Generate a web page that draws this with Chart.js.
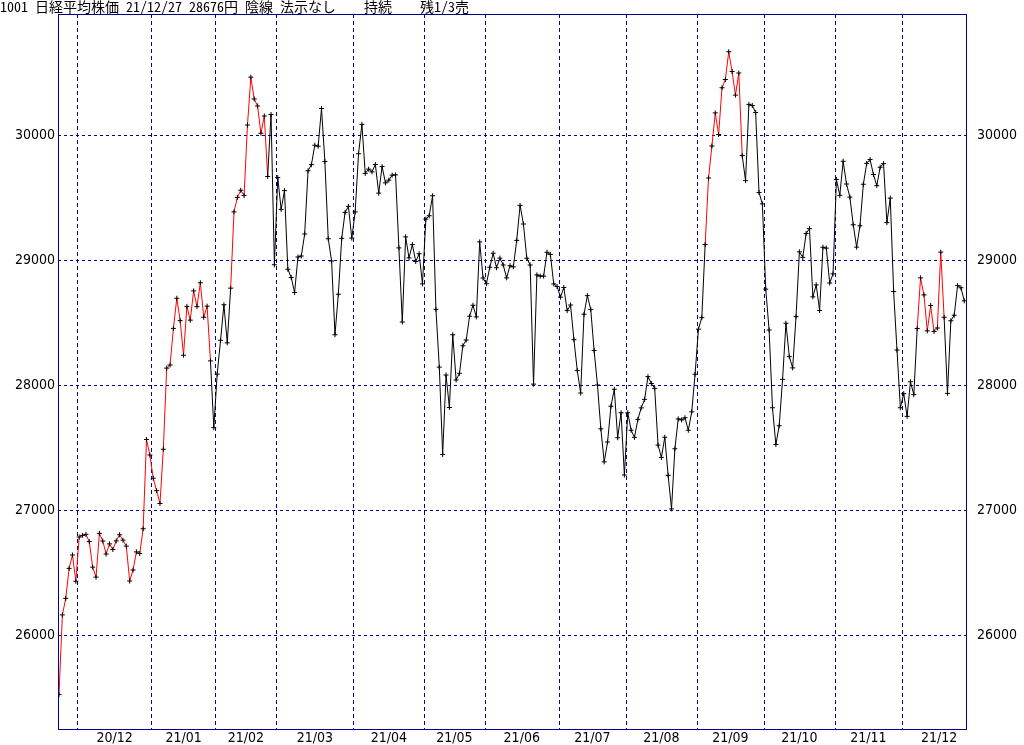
<!DOCTYPE html>
<html lang="ja">
<head>
<meta charset="utf-8">
<title>1001 日経平均株価</title>
<script src="https://cdn.jsdelivr.net/npm/chart.js@4.4.1/dist/chart.umd.min.js"></script>
<style>
    html, body { margin: 0; padding: 0; background: #fff; }
</style>
</head>
<body>
<canvas id="nikkeiChart" width="1024" height="745"></canvas>
<script>
// 日経平均 終値 (月ごと)
const months = ['20/11', '20/12', '21/01', '21/02', '21/03', '21/04', '21/05',
    '21/06', '21/07', '21/08', '21/09', '21/10', '21/11', '21/12'];

const close2011 = [25527, 26165, 26297, 26537, 26644, 26434];
const close2012 = [26788, 26801, 26809, 26751, 26547, 26467, 26817, 26756, 26652, 26733, 26688,
    26757, 26806, 26763, 26715, 26436, 26524, 26669, 26656, 26854, 27568, 27444];
const close2101 = [27258, 27159, 27056, 27490, 28139, 28164, 28457, 28698, 28519, 28242, 28633,
    28523, 28757, 28631, 28822, 28546, 28635, 28197, 27663];
const close2102 = [28091, 28362, 28646, 28341, 28779, 29389, 29505, 29562, 29520, 30084, 30467,
    30292, 30236, 30018, 30156, 29672, 30168, 28966];
const close2103 = [29664, 29409, 29559, 28930, 28864, 28744, 29028, 29036, 29212, 29718, 29767,
    29922, 29914, 30216, 29792, 29174, 28996, 28406, 28730, 29177, 29385, 29433, 29179];
const close2104 = [29389, 29854, 30089, 29697, 29731, 29709, 29768, 29539, 29752, 29621, 29643,
    29683, 29685, 29101, 28508, 29189, 29021, 29127, 28992, 29054, 28813];
const close2105 = [29331, 29358, 29518, 28609, 28147, 27448, 28084, 27824, 28406, 28044, 28098,
    28318, 28364, 28554, 28642, 28549, 29149, 28860];
const close2106 = [28814, 28946, 29058, 28942, 29019, 28964, 28861, 28958, 28949, 29161, 29441,
    29292, 29018, 28964, 28011, 28885, 28875, 28875, 29066, 29049, 28813, 28792];
const close2107 = [28707, 28784, 28599, 28644, 28367, 28119, 27940, 28570, 28719, 28609, 28280,
    28004, 27653, 27389, 27548, 27834, 27970, 27582, 27782, 27284];
const close2108 = [27782, 27642, 27585, 27729, 27821, 27889, 28071, 28016, 27977, 27523, 27425,
    27586, 27281, 27013, 27494, 27733, 27725, 27742, 27642, 27789, 28090];
const close2109 = [28451, 28543, 29128, 29660, 29916, 30181, 30008, 30382, 30448, 30670, 30512,
    30323, 30500, 29840, 29639, 30249, 30240, 30184, 29544, 29453];
const close2110 = [28771, 28444, 27822, 27528, 27678, 28049, 28498, 28231, 28141, 28551, 29069,
    29025, 29216, 29255, 28709, 28805, 28600, 29106, 29099, 28820, 28893];
const close2111 = [29648, 29521, 29794, 29612, 29507, 29286, 29107, 29278, 29610, 29777, 29808,
    29688, 29599, 29746, 29775, 29303, 29499, 28752, 28284, 27822];
const close2112 = [27935, 27753, 28030, 27927, 28456, 28861, 28725, 28437, 28640, 28432, 28460,
    29067, 28546, 27937, 28518, 28562, 28799, 28782, 28677];

const closesByMonth = [close2011, close2012, close2101, close2102, close2103, close2104, close2105,
    close2106, close2107, close2108, close2109, close2110, close2111, close2112];

const yTicks = [26000, 27000, 28000, 29000, 30000];

// 保有中の区間 (データ番号, 赤線)
const holdRanges = [[0, 45], [51, 62], [192, 203], [255, 263]];

const titleText = '1001 日経平均株価 21/12/27 28676円 陰線 法示なし    持続    残1/3売';

// ---- build ----
const closes = closesByMonth.flat();
const points = closes.map((v, i) => ({ x: i, y: v }));

const monthStarts = [];
let n = 0;
closesByMonth.forEach(m => { monthStarts.push(n); n += m.length; });

// grid ticks just before the first trading day of each month, label ticks mid-month
const xTicks = [];
for (let m = 1; m < months.length; m++) {
    xTicks.push({ value: monthStarts[m] - 0.4, grid: true, lbl: '' });
}
for (let m = 1; m < months.length; m++) {
    // last month is still running: centre the label on a full month of trading days
    const len = m === months.length - 1 ? 22 : closesByMonth[m].length;
    xTicks.push({ value: monthStarts[m] + (len - 1) / 2, grid: false, lbl: months[m] });
}

function isHeld(i) {
    return holdRanges.some(r => i >= r[0] && i <= r[1]);
}

const navy = '#000088';
const tickFont = { family: "'Liberation Sans Narrow', 'DejaVu Sans Condensed', sans-serif", size: 14 };
const yMin = 25244, yMax = 30972;

const framePlugin = {
    id: 'frame',
    afterDraw(chart) {
        const { ctx, chartArea: a } = chart;
        ctx.save();
        ctx.strokeStyle = navy;
        ctx.lineWidth = 1;
        ctx.strokeRect(a.left + 0.5, a.top + 0.5, a.right - a.left - 1, a.bottom - a.top - 1);
        ctx.restore();
    }
};

const ctx = document.getElementById('nikkeiChart').getContext('2d');
const nikkeiChart = new Chart(ctx, {
    type: 'line',
    data: {
        datasets: [{
            data: points,
            borderColor: '#000000',
            borderWidth: 1,
            tension: 0,
            pointStyle: 'cross',
            pointRadius: 2.5,
            pointHoverRadius: 2.5,
            pointBorderColor: '#000000',
            pointBorderWidth: 1,
            segment: {
                borderColor: c => (isHeld(c.p0DataIndex) && isHeld(c.p1DataIndex)) ? '#ff0000' : '#000000'
            }
        }]
    },
    options: {
        responsive: false,
        animation: false,
        events: [],
        layout: { padding: 0 },
        plugins: {
            legend: { display: false },
            tooltip: { enabled: false },
            title: {
                display: true,
                text: titleText,
                align: 'start',
                color: '#000000',
                padding: { top: 0, bottom: 0 },
                font: { family: "'Noto Sans Mono CJK JP', 'Noto Sans CJK JP', monospace", size: 14, weight: 'normal', lineHeight: '14px' }
            }
        },
        scales: {
            x: {
                type: 'linear',
                min: -0.3,
                max: 269.8,
                afterBuildTicks: s => { s.ticks = xTicks.map(t => ({ ...t })); },
                afterFit: s => { s.height = 15; },
                grid: {
                    color: c => (c.tick && c.tick.grid) ? navy : 'rgba(0,0,0,0)',
                    lineWidth: 1,
                    drawTicks: false
                },
                border: { display: false, dash: [4, 3] },
                ticks: {
                    autoSkip: false,
                    maxRotation: 0,
                    padding: 0,
                    color: '#000000',
                    font: tickFont,
                    callback: (v, i, ticks) => ticks[i].lbl || ''
                }
            },
            y: {
                position: 'left',
                min: yMin,
                max: yMax,
                afterBuildTicks: s => { s.ticks = yTicks.map(v => ({ value: v })); },
                afterFit: s => { s.width = 58; },
                grid: { color: navy, lineWidth: 1, drawTicks: false },
                border: { display: false, dash: [3, 3] },
                ticks: { padding: 3, color: '#000000', font: tickFont, callback: v => String(v) }
            },
            y2: {
                position: 'right',
                min: yMin,
                max: yMax,
                afterBuildTicks: s => { s.ticks = yTicks.map(v => ({ value: v })); },
                afterFit: s => { s.width = 57; },
                grid: { display: false },
                border: { display: false },
                ticks: { padding: 2, color: '#000000', font: tickFont, callback: v => String(v) }
            }
        }
    },
    plugins: [framePlugin]
});
</script>
</body>
</html>
